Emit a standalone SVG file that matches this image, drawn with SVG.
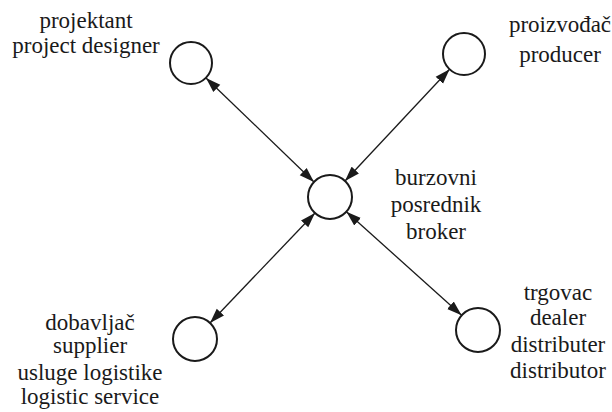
<svg xmlns="http://www.w3.org/2000/svg" width="612" height="412" viewBox="0 0 612 412">
<style>
.node circle{fill:#fff;stroke:#1a1a1a;stroke-width:2}
.lbl{font-family:"Liberation Serif","Times New Roman",serif;font-size:23px;fill:#1a1a1a;text-anchor:middle}
.conn line{stroke:#1a1a1a;stroke-width:1.3;marker-start:url(#ah);marker-end:url(#ah)}
</style>
<defs>
<marker id="ah" markerUnits="userSpaceOnUse" markerWidth="15" markerHeight="11" refX="15" refY="5.5" orient="auto-start-reverse">
<path d="M0,0.5 L15,5.5 L0,10.5 z" fill="#1a1a1a"/>
</marker>
</defs>
<rect width="612" height="412" fill="#fff"/>
<g id="connectors" class="conn">
<line x1="206" y1="78" x2="314" y2="182"/>
<line x1="449.6" y1="69.3" x2="345" y2="181"/>
<line x1="210" y1="323" x2="315" y2="213"/>
<line x1="461.6" y1="315.3" x2="346.4" y2="211.7"/>
</g>
<g id="projektant" class="node">
<circle cx="191" cy="63" r="21"/>
<text class="lbl" x="86" y="28">projektant</text>
<text class="lbl" x="86" y="53">project designer</text>
</g>
<g id="proizvodac" class="node">
<circle cx="464" cy="54" r="21"/>
<text class="lbl" x="560" y="32">proizvođač</text>
<text class="lbl" x="560" y="62">producer</text>
</g>
<g id="broker" class="node">
<circle cx="330" cy="197" r="22"/>
<text class="lbl" x="436" y="185">burzovni</text>
<text class="lbl" x="436" y="212">posrednik</text>
<text class="lbl" x="436" y="239">broker</text>
</g>
<g id="dobavljac" class="node">
<circle cx="195" cy="339" r="22"/>
<text class="lbl" x="90" y="330">dobavljač</text>
<text class="lbl" x="90" y="353">supplier</text>
<text class="lbl" x="90" y="380">usluge logistike</text>
<text class="lbl" x="90" y="404">logistic service</text>
</g>
<g id="trgovac" class="node">
<circle cx="478" cy="330" r="22"/>
<text class="lbl" x="558" y="300">trgovac</text>
<text class="lbl" x="558" y="325">dealer</text>
<text class="lbl" x="558" y="352">distributer</text>
<text class="lbl" x="558" y="378">distributor</text>
</g>
</svg>
